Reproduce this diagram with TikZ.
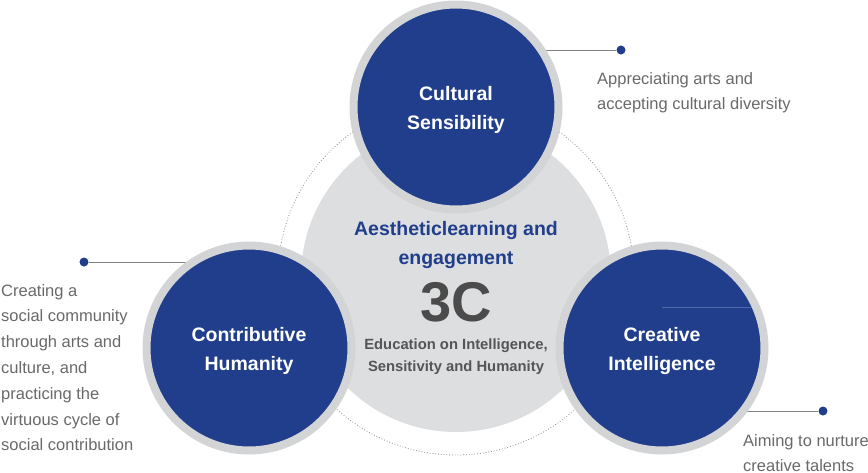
\documentclass[tikz,border=0pt]{standalone}
\usepackage{fontspec}
\setmainfont{Liberation Sans}
\definecolor{cblue}{RGB}{33,62,140}
\definecolor{ringgray}{RGB}{211,212,214}
\definecolor{centergray}{RGB}{221,222,224}
\definecolor{notegray}{RGB}{105,105,105}
\definecolor{bigtext}{RGB}{75,75,75}
\definecolor{edugray}{RGB}{85,85,85}
\definecolor{linegray}{RGB}{130,130,130}
\definecolor{dotgray}{RGB}{140,140,140}
\definecolor{lightblue}{RGB}{80,105,170}
\begin{document}
\begin{tikzpicture}[x=1pt,y=-1pt,
  bigc/.style={circle, fill=cblue, draw=ringgray, line width=8pt, minimum size=205pt, inner sep=0pt},
  clabel/.style={text=white, font=\fontsize{19.5}{29}\selectfont\bfseries, align=center},
  dotc/.style={circle, fill=cblue, minimum size=9pt, inner sep=0pt},
  lead/.style={draw=linegray, line width=0.8pt},
  note/.style={text=notegray, font=\fontsize{16.5}{25.8}\selectfont, align=left, inner sep=0pt, anchor=north west}]
\useasboundingbox (0,0) rectangle (868,472);
\coordinate (ctop) at (456,107);
\coordinate (cleft) at (249,348);
\coordinate (cright) at (662,348);
\coordinate (cmid) at (456,277);
% dotted orbit
\draw[dotgray, dotted, line width=0.8pt] (cmid) circle[radius=178];
% central gray disc
\fill[centergray] (cmid) circle[radius=155];
% callout dots and leader lines
\node[dotc] (tdot) at (621,50) {};
\node[dotc] (ldot) at (84,262) {};
\node[dotc] (rdot) at (823,411) {};
\draw[lead] (tdot) -- (tdot -| ctop);
\draw[lead] (ldot) -- (ldot -| cleft);
\draw[lead] (rdot) -- (rdot -| cright);
% circles
\node[bigc] (top) at (ctop) {};
\node[bigc] (left) at (cleft) {};
\node[bigc] (right) at (cright) {};
\node[clabel] (toplab) at ([yshift=-2.5pt]top.center) {Cultural\\Sensibility};
\node[clabel] (leftlab) at ([yshift=-2.5pt]left.center) {Contributive\\Humanity};
\node[clabel] (rightlab) at ([yshift=-2.5pt]right.center) {Creative\\Intelligence};
\coordinate (hl) at (662,307);
\coordinate (hr) at (752,307);
\draw[lightblue, line width=0.6pt] (hl) -- (hr);
% center texts
\node[text=cblue, font=\fontsize{19.5}{29}\selectfont\bfseries, align=center] (title) at (456,244.5) {Aestheticlearning and\\engagement};
\node[text=bigtext, font=\fontsize{56}{60}\selectfont\bfseries, inner sep=0pt] (tc) at (456,302) {3C};
\node[text=edugray, font=\fontsize{14.8}{22}\selectfont\bfseries, align=center] (edu) at (456,357) {Education on Intelligence,\\Sensitivity and Humanity};
% notes
\node[note] (tnote) at (597,72) {Appreciating arts and\\accepting cultural diversity};
\node[note] (lnote) at (1,284) {Creating a\\social community\\through arts and\\culture, and\\practicing the\\virtuous cycle of\\social contribution};
\node[note] (rnote) at (743,434) {Aiming to nurture\\creative talents};
\end{tikzpicture}
\end{document}
